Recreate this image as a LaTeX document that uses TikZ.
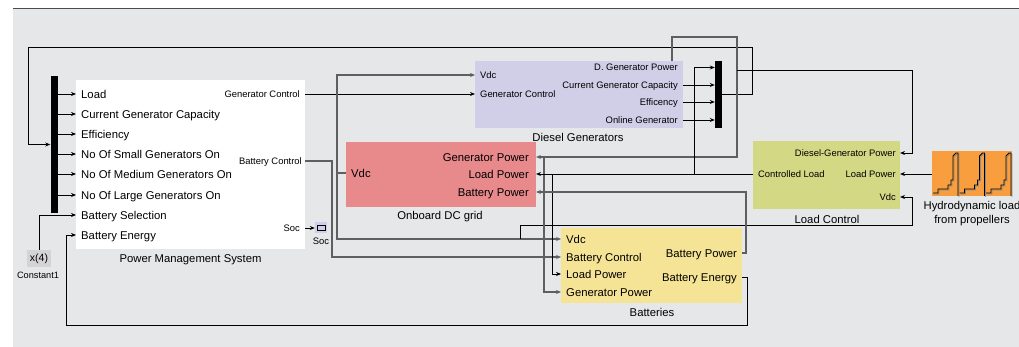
\documentclass[tikz,border=0pt]{standalone}
\usepackage{fontspec}
\setmainfont{Liberation Sans}
\usetikzlibrary{arrows.meta}

\definecolor{bggrey}{RGB}{230,231,233}
\definecolor{dglav}{RGB}{209,206,232}
\definecolor{dcpink}{RGB}{232,137,140}
\definecolor{battyel}{RGB}{245,228,150}
\definecolor{lcgreen}{RGB}{211,216,133}
\definecolor{hydroorange}{RGB}{248,158,62}
\definecolor{constgrey}{RGB}{212,212,214}
\definecolor{socgrey}{RGB}{210,205,235}
\definecolor{wiregrey}{RGB}{95,95,95}

\tikzset{
  block/.style={inner sep=0pt},
  muxbar/.style={fill=black, inner sep=0pt, minimum width=7pt},
  bigport/.style={inner sep=0pt, inner xsep=5pt, text height=8.2pt, text depth=0pt,
    font=\fontsize{11.3}{13}\selectfont},
  smallport/.style={inner sep=0pt, inner xsep=5pt, text height=6.8pt, text depth=0pt,
    font=\fontsize{9.4}{11}\selectfont},
  blocktitle/.style={inner sep=0pt, text height=8.2pt, text depth=0pt,
    font=\fontsize{11.3}{13}\selectfont},
  wire/.style={draw=black, line width=0.9pt},
  bus/.style={draw=wiregrey, line width=1.4pt},
  sig/.style={-{Stealth[length=5pt,width=4pt]}},
}

\begin{document}
\begin{tikzpicture}[x=1pt, y=-1pt]
    \useasboundingbox (0,0) rectangle (1019,347);
    \fill[bggrey] (13,9) rectangle (1019,347);
    \draw[black!70, line width=1pt] (13,9) -- (1019,9);

    % Power Management System
    \node[block, fill=white, minimum width=229pt, minimum height=169pt] (pms) at (190.5,164.5) {};
    \node[blocktitle] at (190.5,258) {Power Management System};
    \node[bigport, anchor=west] (pmsLoad) at (76,94) {Load};
    \node[bigport, anchor=west] (pmsCGC) at (76,114) {Current Generator Capacity};
    \node[bigport, anchor=west] (pmsEff) at (76,134) {Efficiency};
    \node[bigport, anchor=west] (pmsSmall) at (76,154) {No Of Small Generators On};
    \node[bigport, anchor=west] (pmsMed) at (76,174) {No Of Medium Generators On};
    \node[bigport, anchor=west] (pmsLarge) at (76,195) {No Of Large Generators On};
    \node[bigport, anchor=west] (pmsBS) at (76,215) {Battery Selection};
    \node[bigport, anchor=west] (pmsBE) at (76,235) {Battery Energy};
    \node[smallport, anchor=east, inner xsep=5pt] (pmsGC) at (305,94) {Generator Control};
    \node[smallport, anchor=east, inner xsep=3pt] (pmsBC) at (305,161) {Battery Control};
    \node[smallport, anchor=east] (pmsSoc) at (305,228) {Soc};

    % mux in front of the PMS
    \node[muxbar, minimum height=137pt] (muxL) at (54,144.5) {};

    % Constant1
    \node[block, fill=constgrey, minimum width=24pt, minimum height=17pt,
      font=\fontsize{10.5}{12}\selectfont] (const) at (39,258.5) {x(4)};
    \node[blocktitle, font=\fontsize{9.2}{11}\selectfont, text height=6.7pt] at (38,275) {Constant1};

    % Soc terminator
    \node[block, fill=socgrey, minimum width=12pt, minimum height=11pt] (soc) at (321,228) {};
    \draw[black, line width=0.8pt] ([xshift=-4pt,yshift=-2.5pt]soc.center) rectangle ([xshift=4pt,yshift=2.5pt]soc.center);
    \node[smallport, inner xsep=0pt] at (321,241) {Soc};

    % Diesel Generators
    \node[block, fill=dglav, minimum width=208pt, minimum height=67pt] (dg) at (579,94.5) {};
    \node[blocktitle] at (578,137) {Diesel Generators};
    \node[smallport, anchor=west] (dgVdc) at (475,75) {Vdc};
    \node[smallport, anchor=west] (dgGC) at (475,94) {Generator Control};
    \node[smallport, anchor=east] (dgDGP) at (683,67.5) {D. Generator Power};
    \node[smallport, anchor=east] (dgCGC) at (683,85) {Current Generator Capacity};
    \node[smallport, anchor=east] (dgEff) at (683,102) {Efficency};
    \node[smallport, anchor=east] (dgOG) at (683,120) {Online Generator};

    % mux behind the generators
    \node[muxbar, minimum height=67pt] (muxR) at (718.5,94.5) {};

    % Onboard DC grid
    \node[block, fill=dcpink, minimum width=190pt, minimum height=65pt] (dc) at (441,174.5) {};
    \node[blocktitle] at (440,215) {Onboard DC grid};
    \node[bigport, anchor=west] (dcVdc) at (346,173) {Vdc};
    \node[bigport, anchor=east, inner xsep=7pt] (dcGP) at (536,157) {Generator Power};
    \node[bigport, anchor=east, inner xsep=7pt] (dcLP) at (536,174) {Load Power};
    \node[bigport, anchor=east, inner xsep=7pt] (dcBP) at (536,192) {Battery Power};

    % Load Control
    \node[block, fill=lcgreen, minimum width=147pt, minimum height=68pt] (lc) at (826.5,175) {};
    \node[blocktitle] at (827,219) {Load Control};
    \node[smallport, anchor=east, inner xsep=4pt] (lcDGP) at (900,153) {Diesel-Generator Power};
    \node[smallport, anchor=east, inner xsep=4pt] (lcLP) at (900,174) {Load Power};
    \node[smallport, anchor=east, inner xsep=4pt] (lcVdc) at (900,197) {Vdc};
    \node[smallport, anchor=west] (lcCL) at (753,174) {Controlled Load};

    % Hydrodynamic load
    \node[block, fill=hydroorange, minimum width=80pt, minimum height=45pt] (hydro) at (972,174) {};
    \foreach \dx in {0,26.5,53} {
        \draw[black!45, line width=0.8pt, shift={(\dx+1,1)}]
            (933,193) -- (938,193) -- (938,189) -- (948,189) -- (948,185) -- (951,185)
            -- (951,180) -- (953,180) -- (953,156) -- (956,153) -- (958,153) -- (958,196);
        \draw[black, line width=0.8pt, shift={(\dx,0)}]
            (933,193) -- (938,193) -- (938,189) -- (948,189) -- (948,185) -- (951,185)
            -- (951,180) -- (953,180) -- (953,156) -- (956,153) -- (958,153) -- (958,196);
    }
    \node[blocktitle, align=center, text height=, font=\fontsize{11.3}{14}\selectfont]
        at (972,212) {Hydrodynamic load\\from propellers};

    % Batteries
    \node[block, fill=battyel, minimum width=181pt, minimum height=75pt] (bat) at (651.5,265.5) {};
    \node[blocktitle] at (652,312) {Batteries};
    \node[bigport, anchor=west] (batVdc) at (561,239) {Vdc};
    \node[bigport, anchor=west] (batBC) at (561,257) {Battery Control};
    \node[bigport, anchor=west] (batLP) at (561,274) {Load Power};
    \node[bigport, anchor=west] (batGP) at (561,292) {Generator Power};
    \node[bigport, anchor=east] (batBP) at (742,253) {Battery Power};
    \node[bigport, anchor=east] (batBE) at (742,277) {Battery Energy};

    % branch points
    \coordinate (vdcBus) at (337,173);
    \coordinate (vdcTap) at (520,239);
    \coordinate (dgpRise) at (672,61);
    \coordinate (dgpTap) at (737,70);
    \coordinate (gpTap) at (544,157);
    \coordinate (clTapA) at (694,174);
    \coordinate (clTapB) at (552,174);

    % connectors
    \foreach \p in {pmsLoad,pmsCGC,pmsEff,pmsSmall,pmsMed,pmsLarge}
        \draw[wire, sig] (\p.west -| muxL.east) -- (\p.west);
    \foreach \p in {dgCGC,dgEff,dgOG}
        \draw[wire, sig] (\p.east) -- (\p.east -| muxR.west);
    \draw[wire, sig] (muxR.east) -- ++(30,0) -- ++(0,-47) -| ([xshift=-22pt]muxL.west) -- (muxL.west);
    \draw[wire, sig] (const.north) |- (pmsBS.west);
    \draw[wire, sig] (pmsSoc.east) -- (soc.west);
    \draw[wire, sig] (pmsGC.east) -- (dgGC.west);
    \draw[bus, sig] (pmsBC.east) -- ++(27,0) |- (batBC.west);
    \draw[bus] (dcVdc.west) -- (vdcBus);
    \draw[bus, sig] (vdcBus) |- (dgVdc.west);
    \draw[bus, sig] (vdcBus) |- (batVdc.west);
    \draw[wire, sig] (vdcTap) -- ++(0,-14) -| ([xshift=12pt]lcVdc.east) -- (lcVdc.east);
    \draw[bus, sig] (dgpRise) -- ++(0,-24) -- ++(65,0) |- (dcGP.east);
    \draw[bus, sig] (gpTap) |- (batGP.west);
    \draw[wire, sig] (dgpTap) -| ([xshift=12pt]lcDGP.east) -- (lcDGP.east);
    \draw[wire, sig] (lcCL.west) -- (dcLP.east);
    \draw[wire, sig] (clTapA) |- (dgDGP -| muxR.west);
    \draw[wire, sig] (clTapB) |- (batLP.west);
    \draw[wire, sig] (hydro.west) -- (lcLP.east);
    \draw[bus, sig] (batBP.east) -- ++(4,0) |- (dcBP.east);
    \draw[wire, sig] (batBE.east) -- ++(5,0) -- ++(0,48) -| ([xshift=-10pt]pmsBE.west) -- (pmsBE.west);
\end{tikzpicture}
\end{document}
